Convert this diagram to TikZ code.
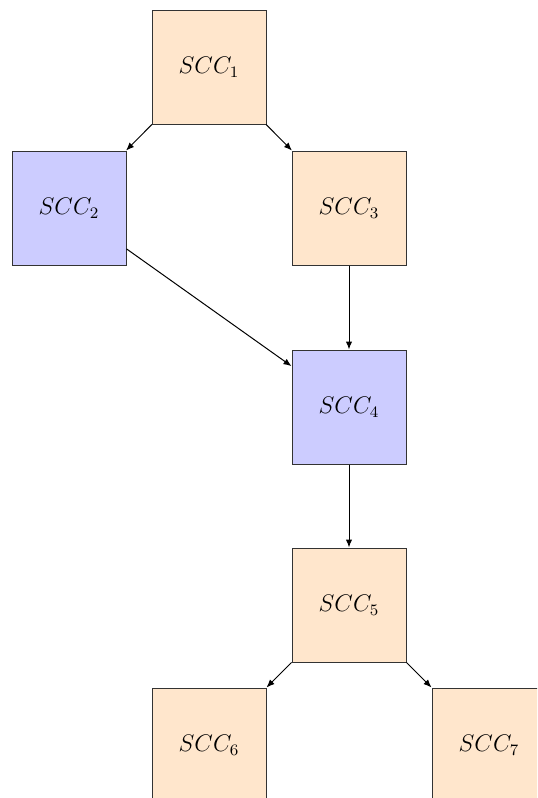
\documentclass[tikz,border=0pt]{standalone}
\usetikzlibrary{arrows.meta}
\definecolor{sccorange}{RGB}{255,230,204}
\definecolor{sccblue}{RGB}{204,204,255}
\begin{document}
\begin{tikzpicture}[x=0.5pt,y=-0.5pt,
  scc/.style={draw=black!80, line width=0.5pt, minimum size=57pt, inner sep=0pt, font=\large},
  orng/.style={scc, fill=sccorange},
  blu/.style={scc, fill=sccblue},
  conn/.style={-{Latex[length=4pt,width=3.2pt]}, line width=0.5pt}]
\useasboundingbox (0,0) rectangle (537,798);
\begin{scope}
\clip (0,0) rectangle (537,798);
\node[orng] (s1) at (209,67) {$SCC_1$};
\node[blu] (s2) at (69,208) {$SCC_2$};
\node[orng] (s3) at (349,208) {$SCC_3$};
\node[blu] (s4) at (349,407) {$SCC_4$};
\node[orng] (s5) at (349,605) {$SCC_5$};
\node[orng] (s6) at (209,745) {$SCC_6$};
\node[orng] (s7) at (489,745) {$SCC_7$};
\draw[conn] (s1) -- (s2);
\draw[conn] (s1) -- (s3);
\draw[conn] (s2) -- (s4);
\draw[conn] (s3) -- (s4);
\draw[conn] (s4) -- (s5);
\draw[conn] (s5) -- (s6);
\draw[conn] (s5) -- (s7);
\end{scope}
\end{tikzpicture}
\end{document}
